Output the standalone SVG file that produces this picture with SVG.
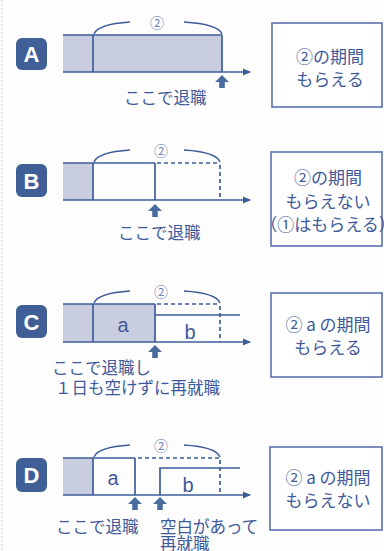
<svg xmlns="http://www.w3.org/2000/svg" width="384" height="551" viewBox="0 0 384 551">
<defs>
<style>
.bg{fill:#fdfdfd}
.fill{fill:#c9cde0;stroke:none}
.ln{stroke:#3d5c98;stroke-width:1.7;fill:none}
.dash{stroke:#3d5c98;stroke-width:1.7;fill:none;stroke-dasharray:4 3}
.arc{stroke:#3d5c98;stroke-width:1.6;fill:none}
.badge{fill:#3f5f96}
.bl{font-family:"Liberation Sans",Arial,sans-serif;font-weight:bold;font-size:22px;fill:#fff;text-anchor:middle}
.t{font-family:"Noto Sans CJK JP","Noto Sans",sans-serif;font-size:16.5px;fill:#3f5a9a}
.bt{font-family:"Noto Sans CJK JP","Noto Sans",sans-serif;font-size:17px;fill:#3f5a9a;text-anchor:middle}
.c2{font-family:"Noto Sans CJK JP","Noto Sans",sans-serif;font-size:14px;fill:#6f82b8;text-anchor:middle}
.lab{font-family:"Liberation Sans",Arial,sans-serif;font-size:20px;fill:#3f5a9a;text-anchor:middle}
.box{fill:#fff;stroke:#5068aa;stroke-width:1.5}
.up{fill:#4a6b9e}
</style>
<marker id="ah" markerWidth="8" markerHeight="8" refX="7" refY="4" orient="auto" markerUnits="userSpaceOnUse">
<path d="M0,0.5 L8,4 L0,7.5 Z" fill="#3d5c98"/>
</marker>
<path id="uparrow" d="M0,0 L7,7 L2.8,7 L2.8,13 L-2.8,13 L-2.8,7 L-7,7 Z"/>
</defs>
<rect class="bg" x="0" y="0" width="384" height="551"/>
<line x1="2" y1="0" x2="2" y2="551" stroke="#c7d3ea" stroke-width="1" stroke-dasharray="2 2"/>

<!-- Panel A -->
<g id="panelA">
<rect class="badge" x="16" y="38" width="31" height="32" rx="6"/>
<text class="bl" x="31.5" y="62">A</text>
<rect class="fill" x="63" y="35" width="159" height="37"/>
<line class="ln" x1="63" y1="35" x2="222" y2="35"/>
<line class="ln" x1="93" y1="35" x2="93" y2="72"/>
<line class="ln" x1="222" y1="35" x2="222" y2="72"/>
<path class="arc" d="M94,34 C97,26 115,23 130,22"/>
<path class="arc" d="M184,22 C200,23 219,26 222,34"/>
<text class="c2" x="157" y="28">②</text>
<use href="#uparrow" class="up" x="222" y="75"/>
<text class="t" x="124" y="104">ここで退職</text>
</g>

<!-- Panel B -->
<g id="panelB">
<rect class="badge" x="16" y="164" width="31" height="33" rx="6"/>
<text class="bl" x="31.5" y="188.5">B</text>
<rect class="fill" x="63" y="163" width="30" height="37"/>
<line class="ln" x1="63" y1="163" x2="155" y2="163"/>
<line class="ln" x1="93" y1="163" x2="93" y2="200"/>
<line class="ln" x1="155" y1="163" x2="155" y2="200"/>
<line class="dash" x1="157" y1="163" x2="220" y2="163"/>
<line class="dash" x1="220" y1="165" x2="220" y2="200"/>
<path class="arc" d="M94,162 C97,154 115,151 130,150"/>
<path class="arc" d="M184,150 C200,151 217,154 220,162"/>
<text class="c2" x="161" y="156">②</text>
<use href="#uparrow" class="up" x="155" y="204"/>
<text class="t" x="118" y="239">ここで退職</text>
</g>

<!-- Panel C -->
<g id="panelC">
<rect class="badge" x="16" y="305" width="31" height="33" rx="6"/>
<text class="bl" x="31.5" y="329.5">C</text>
<rect class="fill" x="63" y="304" width="92" height="38"/>
<line class="ln" x1="63" y1="304" x2="155" y2="304"/>
<line class="ln" x1="93" y1="304" x2="93" y2="342"/>
<line class="ln" x1="155" y1="304" x2="155" y2="342"/>
<line class="ln" x1="155" y1="315" x2="240" y2="315"/>
<line class="dash" x1="157" y1="304" x2="220" y2="304"/>
<line class="dash" x1="220" y1="306" x2="220" y2="342"/>
<path class="arc" d="M94,303 C97,295 115,292 130,291"/>
<path class="arc" d="M184,291 C200,292 217,295 220,303"/>
<text class="c2" x="161" y="297">②</text>
<text class="lab" x="123" y="332">a</text>
<text class="lab" x="190" y="339">b</text>
<use href="#uparrow" class="up" x="155" y="345"/>
<text class="t" x="52" y="374">ここで退職し</text>
<text class="t" x="55" y="393.5">１日も空けずに再就職</text>
</g>

<!-- Panel D -->
<g id="panelD">
<rect class="badge" x="16" y="458" width="31" height="34" rx="6"/>
<text class="bl" x="31.5" y="483">D</text>
<rect class="fill" x="63" y="458" width="30" height="37"/>
<line class="ln" x1="63" y1="458" x2="135" y2="458"/>
<line class="ln" x1="93" y1="458" x2="93" y2="495"/>
<line class="ln" x1="135" y1="458" x2="135" y2="495"/>
<line class="dash" x1="138" y1="458" x2="220" y2="458"/>
<line class="dash" x1="220" y1="460" x2="220" y2="495"/>
<polyline class="ln" points="160,495 160,468 240,468"/>
<path class="arc" d="M94,457 C97,449 115,446 130,445"/>
<path class="arc" d="M184,445 C200,446 217,449 220,457"/>
<text class="c2" x="161" y="451">②</text>
<text class="lab" x="113" y="485">a</text>
<text class="lab" x="188" y="492">b</text>
<use href="#uparrow" class="up" x="135" y="497"/>
<use href="#uparrow" class="up" x="160" y="497"/>
<text class="t" x="56" y="533">ここで退職</text>
<text class="t" x="160" y="533">空白があって</text>
<text class="t" x="160" y="550">再就職</text>
</g>

<!-- Result boxes -->
<g id="boxA">
<rect class="box" x="272" y="23" width="110" height="84"/>
<text class="bt" x="330" y="63">②の期間</text>
<text class="bt" x="330" y="86">もらえる</text>
</g>
<g id="boxB">
<rect class="box" x="271" y="152" width="111" height="94"/>
<text class="bt" x="328" y="184">②の期間</text>
<text class="bt" x="328" y="208">もらえない</text>
<text class="bt" x="328" y="231" font-size="16">（①はもらえる）</text>
</g>
<g id="boxC">
<rect class="box" x="271" y="293" width="111" height="84"/>
<text class="bt" x="328" y="331">② a の期間</text>
<text class="bt" x="328" y="354">もらえる</text>
</g>
<g id="boxD">
<rect class="box" x="270" y="447" width="112" height="83"/>
<text class="bt" x="328" y="484">② a の期間</text>
<text class="bt" x="328" y="507">もらえない</text>
</g>

<!-- Connectors: time axes -->
<g id="connectors">
<line class="ln" x1="63" y1="72" x2="250" y2="72" marker-end="url(#ah)"/>
<line class="ln" x1="63" y1="200" x2="250" y2="200" marker-end="url(#ah)"/>
<line class="ln" x1="63" y1="342" x2="250" y2="342" marker-end="url(#ah)"/>
<line class="ln" x1="63" y1="495" x2="250" y2="495" marker-end="url(#ah)"/>
</g>
</svg>
